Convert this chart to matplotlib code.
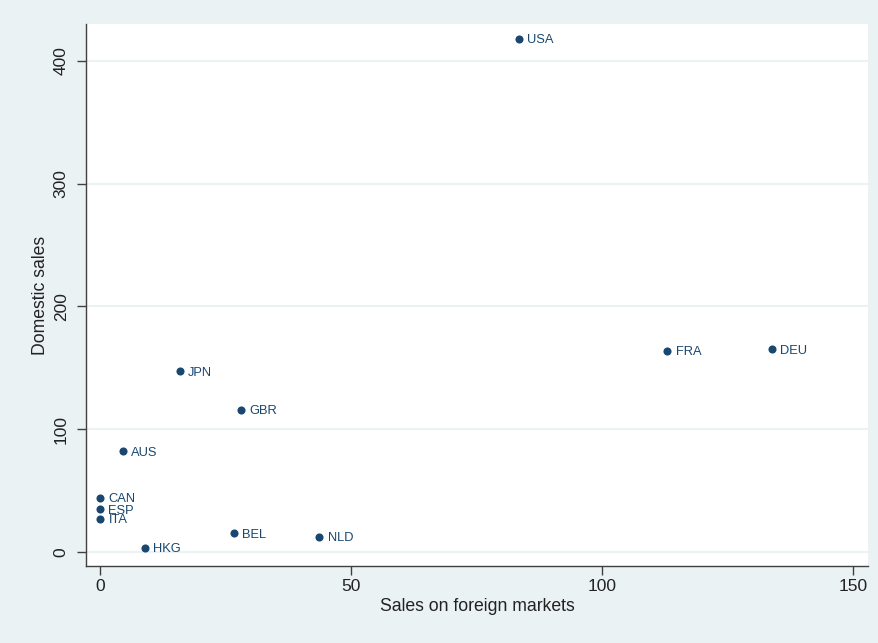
import matplotlib
matplotlib.use("Agg")
from matplotlib import pyplot as plt

countries = ["USA", "FRA", "DEU", "JPN", "GBR", "AUS", "CAN", "ESP", "ITA", "HKG", "BEL", "NLD"]
foreign = [83.5, 113.0, 133.9, 15.9, 28.0, 4.5, 0.0, 0.0, 0.0, 8.9, 26.7, 43.7]
domestic = [418.0, 164.0, 165.0, 147.0, 116.0, 82.0, 44.3, 34.9, 26.8, 3.6, 15.2, 12.2]

x_ticks = [0, 50, 100, 150]
y_ticks = [0, 100, 200, 300, 400]

plt.rcParams['font.family'] = ['Liberation Sans', 'DejaVu Sans']

bg = "#eaf2f3"
navy = "#1a476f"

fig = plt.figure(figsize=(8.79, 6.43), dpi=100, facecolor=bg)
ax = fig.add_axes([86 / 879, 77 / 643, 782 / 879, 542 / 643])
ax.set_facecolor("white")

ax.scatter(foreign, domestic, s=34, color=navy, zorder=3, linewidths=0)
for name, xv, yv in zip(countries, foreign, domestic):
    ax.annotate(name, (xv, yv), xytext=(6, -1), textcoords="offset points",
                ha="left", va="center", fontsize=9.3, color=navy)

ax.set_xlim(-2.8, 153)
ax.set_ylim(-11.4, 430)
ax.set_xticks(x_ticks)
ax.set_yticks(y_ticks)
ax.yaxis.grid(True, color=bg, linewidth=1.5)
ax.set_axisbelow(True)

for side in ["top", "right"]:
    ax.spines[side].set_visible(False)
for side in ["left", "bottom"]:
    ax.spines[side].set_color("#404040")
    ax.spines[side].set_linewidth(1.0)

ax.tick_params(axis="both", direction="out", length=6.5, width=1.0,
               color="#404040", labelsize=12.5, labelcolor="#222222")
ax.tick_params(axis="x", pad=3)
ax.tick_params(axis="y", pad=6)
plt.setp(ax.get_yticklabels(), rotation=90, va="center")

ax.set_xlabel("Sales on foreign markets", fontsize=12.7, color="#222222", labelpad=3)
ax.set_ylabel("Domestic sales", fontsize=12.7, color="#222222", labelpad=3)

fig.savefig("out.png", dpi=100, facecolor=bg)
